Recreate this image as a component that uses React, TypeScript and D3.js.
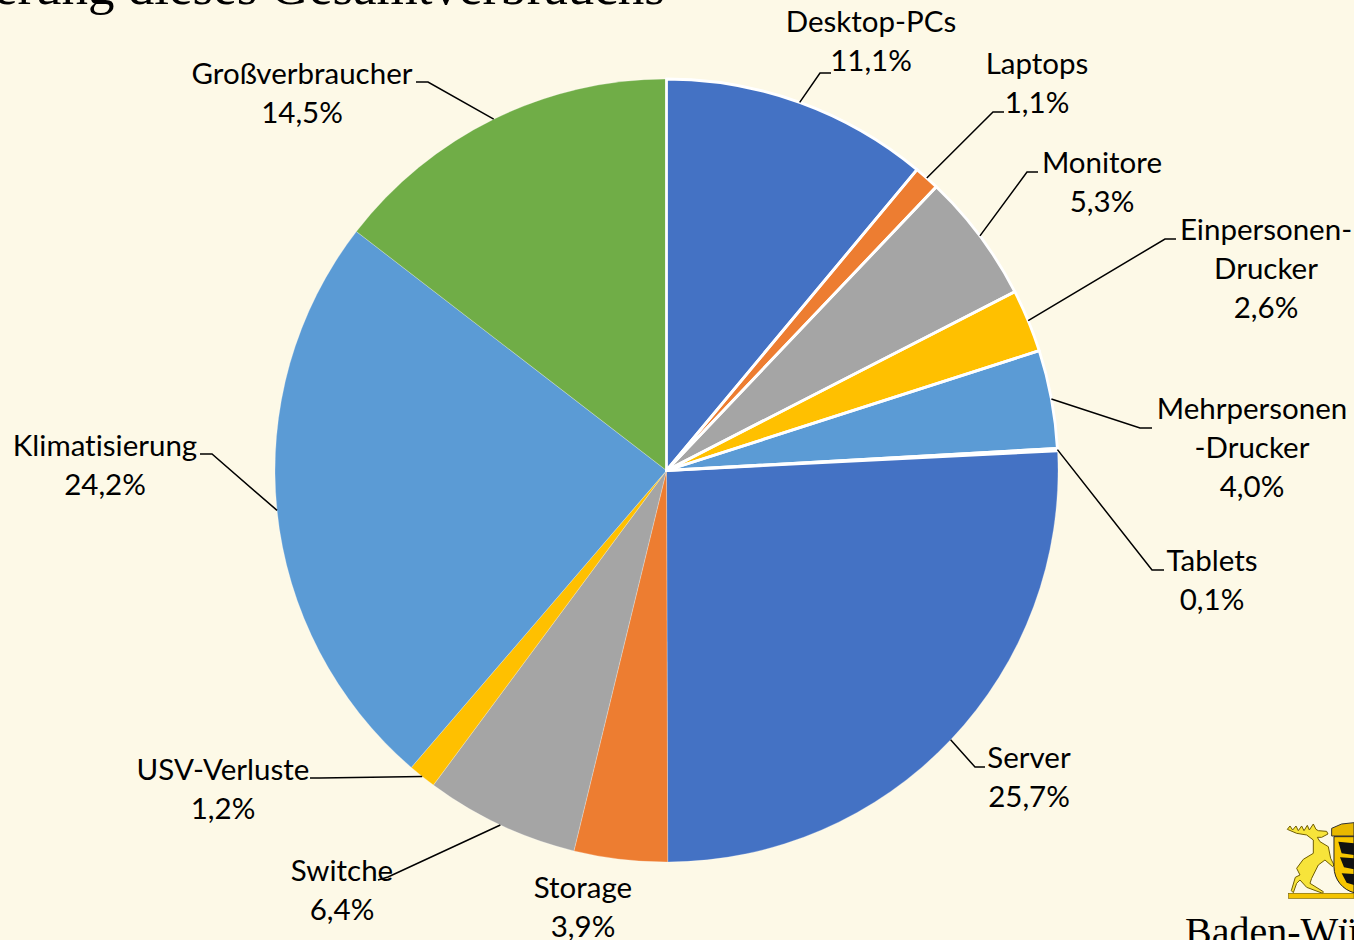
import * as d3 from 'd3';

const categories = ['Desktop-PCs', 'Laptops', 'Monitore', 'Einpersonen-Drucker', 'Mehrpersonen-Drucker', 'Tablets', 'Server', 'Storage', 'Switche', 'USV-Verluste', 'Klimatisierung', 'Großverbraucher'];
const shares = [11.05, 1.05, 5.35, 2.6, 4.05, 0.1, 25.75, 3.85, 6.35, 1.15, 24.15, 14.55];
const palette = ['#4472C4', '#ED7D31', '#A5A5A5', '#FFC000', '#5B9BD5', '#70AD47'];

// label text lines, where each label sits, and the elbow of its leader
const labelLines = [
  ['Desktop-PCs', '11,1%'], ['Laptops', '1,1%'], ['Monitore', '5,3%'], ['Einpersonen-', 'Drucker', '2,6%'],
  ['Mehrpersonen', '-Drucker', '4,0%'], ['Tablets', '0,1%'], ['Server', '25,7%'], ['Storage', '3,9%'],
  ['Switche', '6,4%'], ['USV-Verluste', '1,2%'], ['Klimatisierung', '24,2%'], ['Großverbraucher', '14,5%'],
];
const labelPos: [number, number][] = [
  [871, 32], [1037, 74], [1102, 173], [1266, 240], [1252, 419], [1212, 571], [1029, 768], [583, 898], [342, 881], [223, 780], [105, 456], [302, 84],
];
const leaderElbows: ([number, number, number, number] | null)[] = [
  [820, 73, 831, 73], [993, 112, 1004, 112], [1027, 172, 1038, 172], [1165, 239, 1176, 239],
  [1140, 428, 1152, 428], [1152, 570, 1164, 570], [975, 767, 985, 767], null,
  [388, 877, 378, 880], [320, 778, 310, 778], [212, 454, 200, 454], [428, 82, 416, 82],
];
// the white slice borders only show on the first slices in the original
const outlinedSlices = 6;

const width = 1354;
const height = 940;
const cx = 666.5;
const cy = 470.5;
const radius = 391.5;
const lineGap = 39;

export default function App() {
  const arcs = d3.pie<number>().sort(null).value((d) => d)(shares);
  const arc = d3.arc<d3.PieArcDatum<number>>().innerRadius(0).outerRadius(radius);
  const line = d3.line();

  return (
    <svg width={width} height={height} viewBox={`0 0 ${width} ${height}`} style={{ position: 'absolute', left: 0, top: 0, display: 'block' }}>
      <rect width={width} height={height} fill="#FDF9E7" />
      <text x={665} y={4} textAnchor="end" fontFamily="'Liberation Serif'" fontSize={53} fill="#000">
        erung dieses Gesamtverbrauchs
      </text>

      <g transform={`translate(${cx},${cy})`}>
        {arcs.map((d, i) => (
          <path
            key={categories[i]}
            d={arc(d) ?? ''}
            fill={palette[i % palette.length]}
            stroke="#FFFFFF"
            strokeOpacity={0.35}
            strokeWidth={0.7}
          />
        ))}
        {arcs.slice(0, outlinedSlices).map((d, i) => (
          <path key={categories[i]} d={arc(d) ?? ''} fill="none" stroke="#FFFFFF" strokeWidth={2.8} strokeLinejoin="round" />
        ))}
      </g>

      {arcs.map((d, i) => {
        const elbow = leaderElbows[i];
        if (!elbow) return null;
        const mid = (d.startAngle + d.endAngle) / 2;
        const start: [number, number] = [cx + radius * Math.sin(mid), cy - radius * Math.cos(mid)];
        return (
          <path
            key={categories[i]}
            d={line([start, [elbow[0], elbow[1]], [elbow[2], elbow[3]]]) ?? ''}
            fill="none"
            stroke="#000"
            strokeWidth={1.5}
          />
        );
      })}

      {labelLines.map((lines, i) => (
        <text
          key={categories[i]}
          textAnchor="middle"
          fontFamily="Lato, 'Open Sans', sans-serif"
          fontSize={29.5}
          fill="#000"
          style={{ fontVariantLigatures: 'none' }}
        >
          {lines.map((t, j) => (
            <tspan key={t} x={labelPos[i][0]} y={labelPos[i][1] + j * lineGap}>
              {t}
            </tspan>
          ))}
        </text>
      ))}

      {/* Landeswappen, traced roughly from a 3x crop */}
      <g transform="translate(1150,800) scale(0.3333)">
        <path
          d="M412 88 L420 78 L428 90 L438 78 L445 92 L455 78 L462 92 L472 76 L478 90 L490 72 L498 88 L505 92 L530 94 L534 102 L515 112 L502 112 L510 125 L535 140 L542 175 L552 195 L548 200 L525 180 L505 195 L485 235 L480 250 L520 275 L518 280 L470 262 L450 240 L440 250 L430 278 L424 272 L436 232 L450 225 L440 205 L460 178 L490 160 L490 120 L470 105 L440 100 Z"
          fill="#F7E43A"
          stroke="#6E5C00"
          strokeWidth={3}
        />
        <rect x={416} y={280} width={196} height={15} fill="#F4C400" stroke="#7A6500" strokeWidth={2} />
        <path d="M545 85 L575 72 L612 68 L612 108 L545 108 Z" fill="#E8B800" stroke="#333" strokeWidth={3} />
        <path d="M552 110 L612 110 L612 278 C580 270 552 240 552 200 Z" fill="#F7C600" stroke="#222" strokeWidth={3} />
        <path d="M565 125 L612 130 L612 165 L575 160 Z M570 172 L612 175 L612 208 L582 202 Z M575 220 L612 222 L612 255 L590 248 Z" fill="#111" />
      </g>
      <text x={1185} y={945} fontFamily="'Liberation Serif'" fontSize={40} fill="#000">
        Baden-Württemberg
      </text>
    </svg>
  );
}
